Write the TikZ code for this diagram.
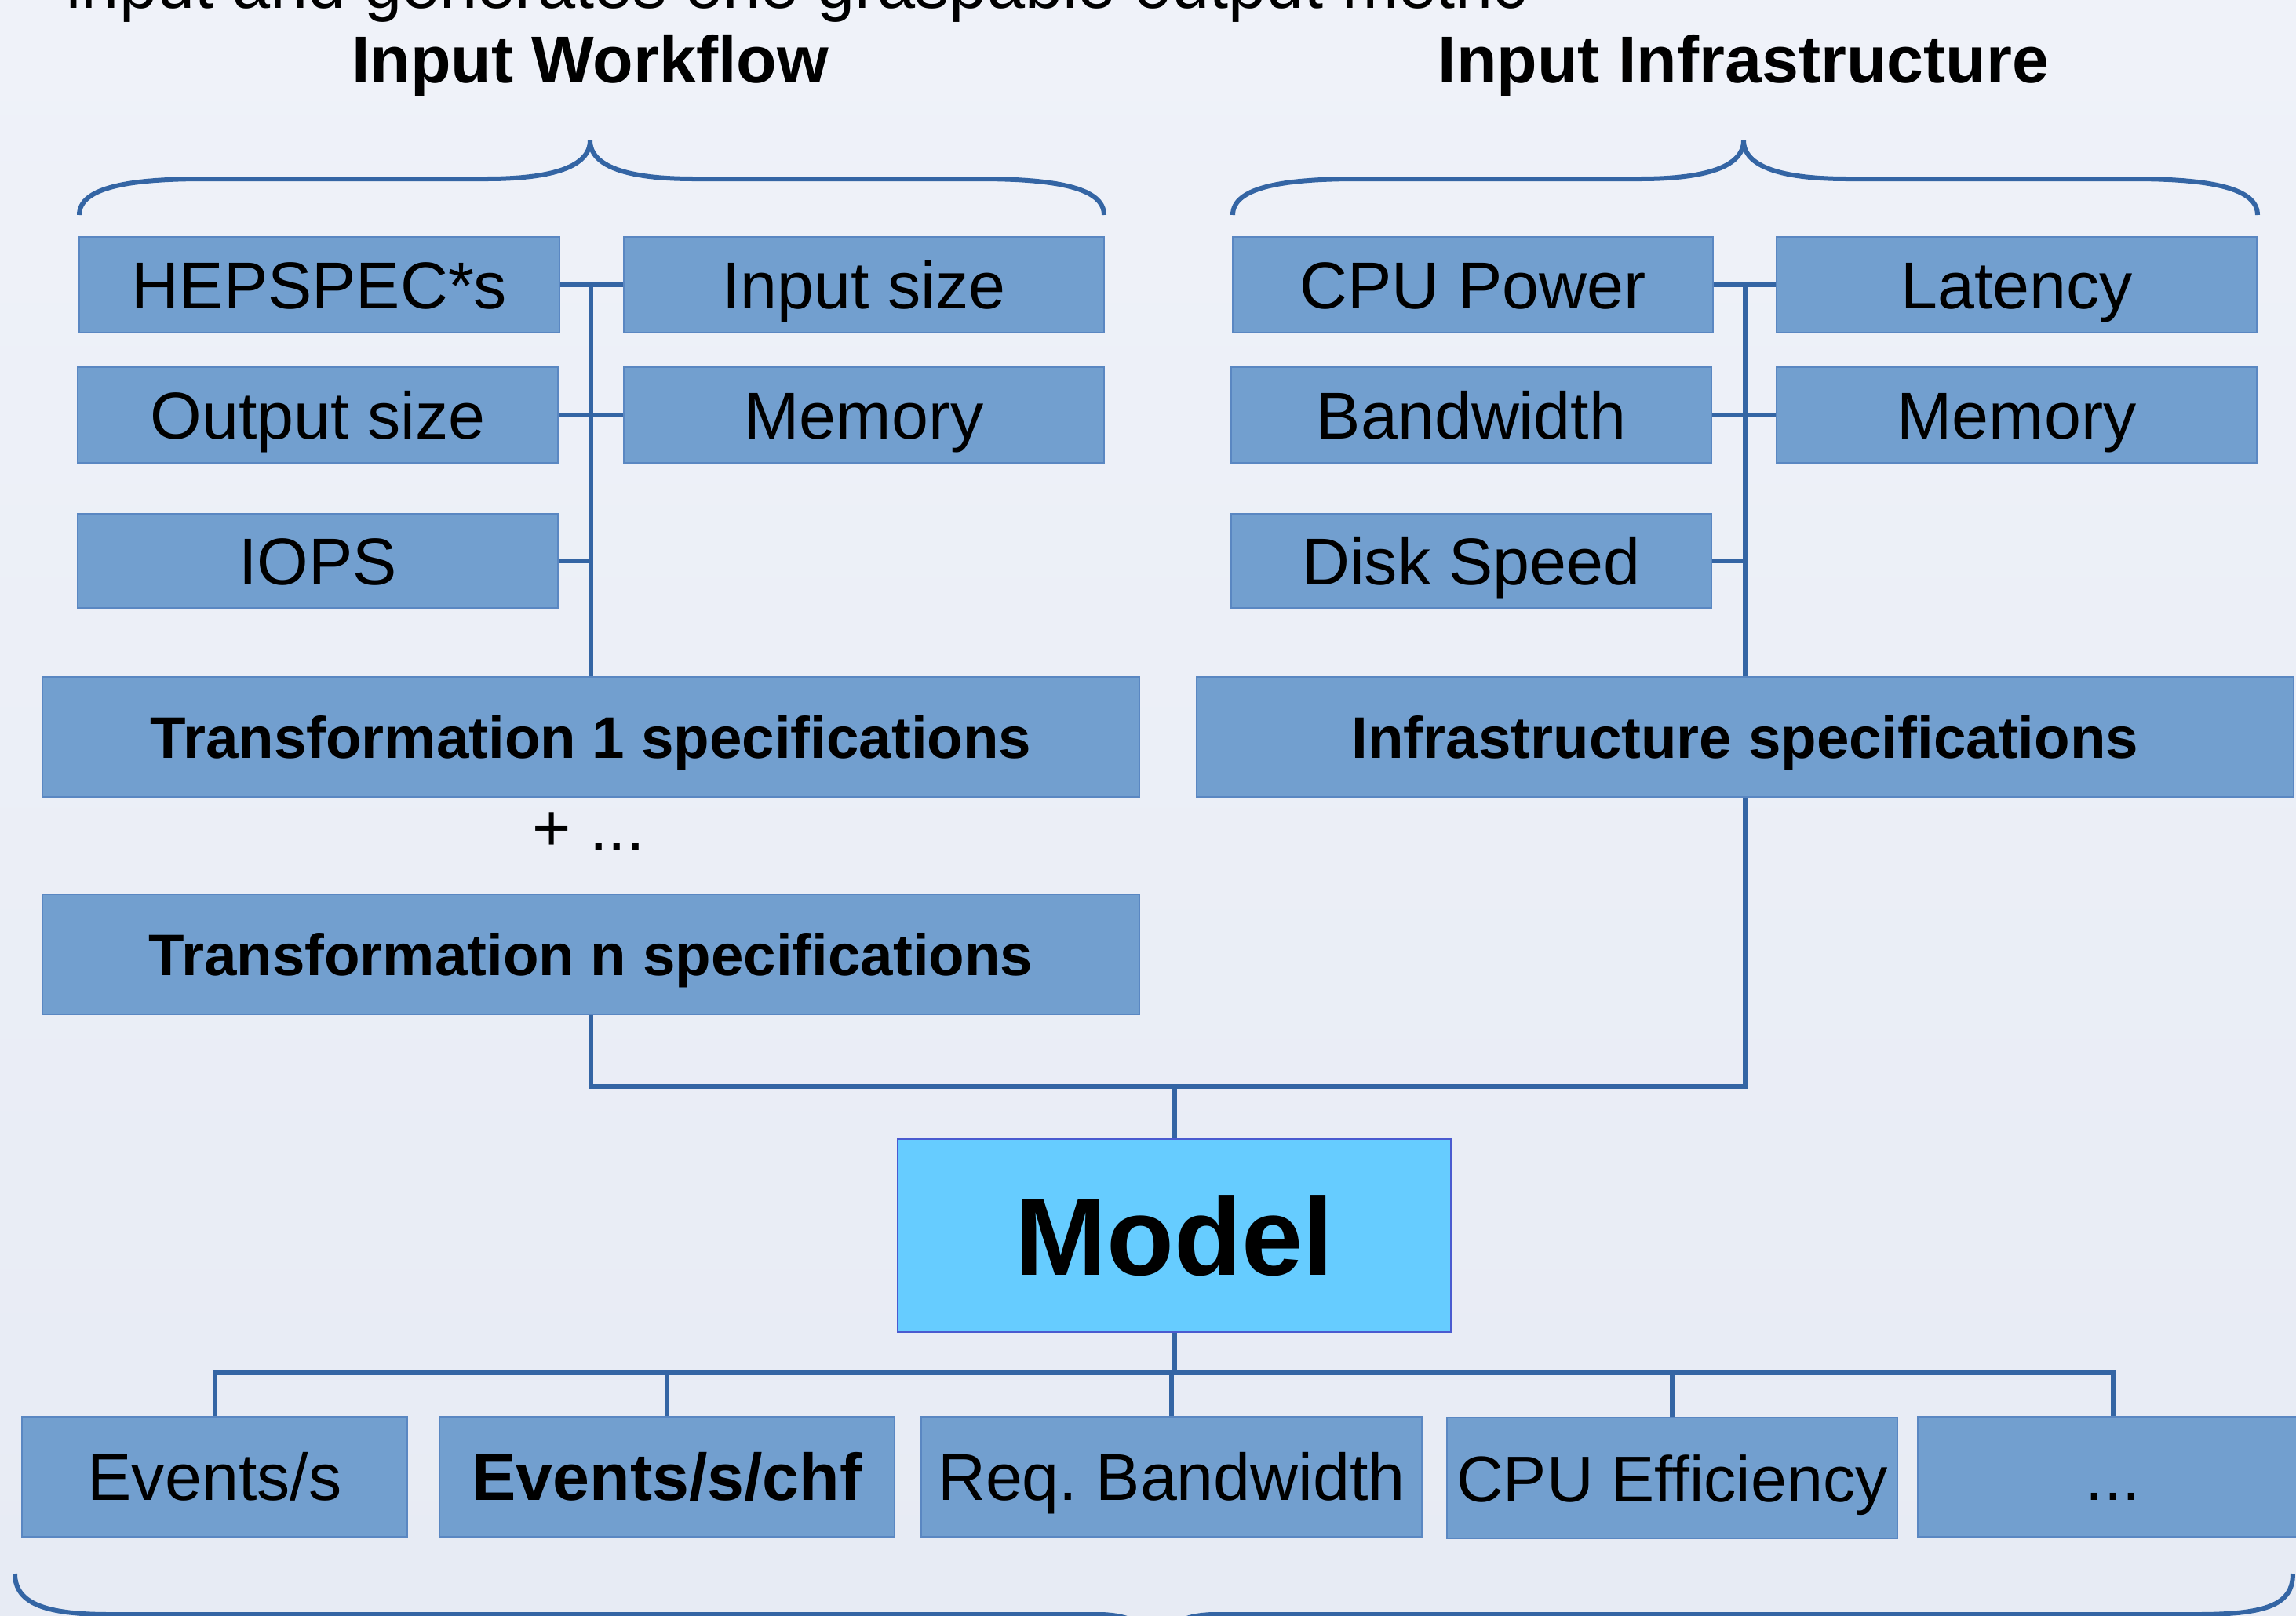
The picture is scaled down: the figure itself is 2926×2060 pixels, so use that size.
\documentclass[tikz,border=0pt]{standalone}
\usepackage{fontspec}
\setmainfont{Liberation Sans}
\frenchspacing
\definecolor{boxfill}{HTML}{729FCF}
\definecolor{boxline}{HTML}{5A87C2}
\definecolor{conn}{HTML}{3465A4}
\definecolor{modelfill}{HTML}{66CCFF}
\definecolor{modelline}{HTML}{4A5BD0}
\definecolor{bgtop}{HTML}{EFF2F9}
\definecolor{bgbot}{HTML}{E7EBF4}
\tikzset{
  box/.style={draw=boxline, line width=0.02cm, fill=boxfill, inner sep=0pt, minimum height=1.22cm, font=\fontsize{24}{28}\selectfont, text height=17.2pt, text depth=0pt},
  smallbox/.style={box, minimum width=6.12cm},
  specbox/.style={box, minimum width=13.98cm, minimum height=1.52cm, font=\fontsize{21.2}{25}\selectfont\bfseries, text height=15.2pt},
  outbox/.style={box, minimum height=1.53cm},
  conline/.style={draw=conn, line width=0.06cm, line cap=square},
  bracel/.style={draw=conn, line width=0.06cm},
  titletext/.style={font=\fontsize{24}{28}\selectfont\bfseries, inner sep=0pt, text height=17.2pt, text depth=0pt},
}
\begin{document}
\begin{tikzpicture}[x=0.01cm, y=-0.01cm]
\useasboundingbox (0,0) rectangle (2926,2060);
\shade[top color=bgtop, bottom color=bgbot] (0,0) rectangle (2926,2060);

% cut-off top line
\node[anchor=base west, inner sep=0pt, font=\fontsize{24.6}{28}\selectfont] (toptext) at (84,10) {input and generates one graspable output metric};

% titles
\node[titletext] (tw) at (752,75) {Input Workflow};
\node[titletext] (ti) at (2222,75) {Input Infrastructure};

% braces
\draw[bracel] (101,274) .. controls (101,240) and (160,228) .. (260,228) -- (620,228)
  .. controls (705,228) and (752,212) .. (752,179)
  .. controls (752,212) and (799,228) .. (884,228) -- (1248,228)
  .. controls (1348,228) and (1407,240) .. (1407,274);
\draw[bracel] (1571,274) .. controls (1571,240) and (1630,228) .. (1730,228) -- (2090,228)
  .. controls (2175,228) and (2222,212) .. (2222,179)
  .. controls (2222,212) and (2269,228) .. (2354,228) -- (2718,228)
  .. controls (2818,228) and (2877,240) .. (2877,274);
\draw[bracel] (19,2006) .. controls (19,2045) and (60,2058) .. (140,2058) -- (1400,2058)
  .. controls (1450,2058) and (1474,2080) .. (1474,2110)
  .. controls (1474,2080) and (1498,2058) .. (1549,2058) -- (2800,2058)
  .. controls (2890,2058) and (2922,2045) .. (2922,2006);

% workflow inputs
\node[smallbox] (hep) at (407,363) {HEPSPEC*s};
\node[smallbox] (insize) at (1101,363) {Input size};
\node[smallbox] (outsize) at (405,529) {Output size};
\node[smallbox] (mema) at (1101,529) {Memory};
\node[smallbox, minimum height=1.19cm] (iops) at (405,715) {IOPS};

% infrastructure inputs
\node[smallbox] (cpu) at (1877,363) {CPU Power};
\node[smallbox] (lat) at (2570,363) {Latency};
\node[smallbox] (bw) at (1875,529) {Bandwidth};
\node[smallbox] (memb) at (2570,529) {Memory};
\node[smallbox, minimum height=1.19cm] (disk) at (1875,715) {Disk Speed};

% specifications
\node[specbox] (trans1) at (753,939.5) {Transformation 1 specifications};
\node[inner sep=0pt, font=\fontsize{24}{28}\selectfont] (plus) at (750,1060) {+ ...};
\node[specbox, minimum height=1.53cm] (transn) at (753,1216.5) {Transformation n specifications};
\node[specbox] (infra) at (2224,939.5) {Infrastructure specifications};

% model
\node[draw=modelline, line width=0.02cm, fill=modelfill, minimum width=7.05cm, minimum height=2.46cm, inner sep=0pt, font=\fontsize{40}{46}\selectfont\bfseries, text height=28.6pt, text depth=0pt] (model) at (1496.5,1575) {Model};

% outputs
\node[outbox, minimum width=4.91cm] (o1) at (273.5,1882.5) {Events/s};
\node[outbox, minimum width=5.80cm, font=\fontsize{24}{28}\selectfont\bfseries] (o2) at (850,1882.5) {Events/s/chf};
\node[outbox, minimum width=6.38cm] (o3) at (1493,1882.5) {Req. Bandwidth};
\node[outbox, minimum width=5.74cm, font=\fontsize{23.5}{28}\selectfont] (o4) at (2131,1884) {CPU Efficiency};
\node[outbox, minimum width=4.98cm] (o5) at (2693,1882.5) {...};

% connectors: workflow
\draw[conline] (hep.east) -- (insize.west);
\draw[conline] (outsize.east) -- (mema.west);
\draw[conline] (iops.east) -- (iops.east -| trans1.north);
\draw[conline] (trans1.north) -- (trans1.north |- hep.east);

% connectors: infrastructure
\draw[conline] (cpu.east) -- (lat.west);
\draw[conline] (bw.east) -- (memb.west);
\draw[conline] (disk.east) -- (disk.east -| infra.north);
\draw[conline] (infra.north) -- (infra.north |- cpu.east);

% into model
\coordinate (jt) at (model.north |- 0,1385);
\draw[conline, line cap=butt] (transn.south) |- (jt) -| (infra.south);
\draw[conline, line cap=butt] (jt) -- (model.north);

% out of model
\coordinate (jb) at (model.south |- 0,1750);
\draw[conline, line cap=butt] (model.south) -- (jb);
\draw[conline, line cap=butt] (o1.north) |- (jb) -| (o5.north);
\draw[conline, line cap=butt] (o2.north) -- (o2.north |- jb);
\draw[conline, line cap=butt] (o3.north) -- (o3.north |- jb);
\draw[conline, line cap=butt] (o4.north) -- (o4.north |- jb);
\end{tikzpicture}
\end{document}
